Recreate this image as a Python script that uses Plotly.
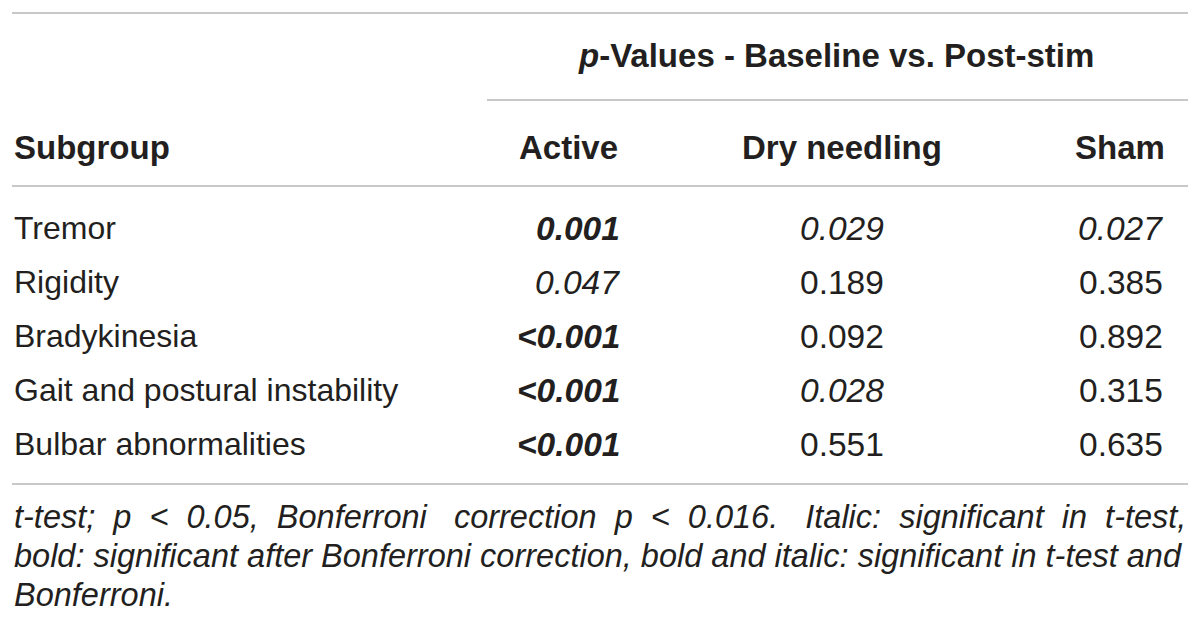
import plotly.graph_objects as go

# table contents
group_header = "<i>p</i>-Values - Baseline vs. Post-stim"
columns = ["Subgroup", "Active", "Dry needling", "Sham"]
subgroups = ["Tremor", "Rigidity", "Bradykinesia", "Gait and postural instability", "Bulbar abnormalities"]
active = ["0.001", "0.047", "<0.001", "<0.001", "<0.001"]
dry_needling = ["0.029", "0.189", "0.092", "0.028", "0.551"]
sham = ["0.027", "0.385", "0.892", "0.315", "0.635"]
# style codes per cell: "" plain, "i" italic, "bi" bold italic
active_style = ["bi", "i", "bi", "bi", "bi"]
dry_style = ["i", "", "", "i", ""]
sham_style = ["i", "", "", "", ""]
# extra spaces fake the justified first line
footnote = [
    "<i>t-test;  p  <  0.05,  Bonferroni   correction  p  <  0.016.   Italic:  significant  in  t-test,</i>",
    "<i>bold: significant after Bonferroni correction, bold and italic: significant in t-test and</i>",
    "<i>Bonferroni.</i>",
]

FONT = "Liberation Sans"
TXT = "#231f20"
RULE = "#c8c8c8"


def styled(v, s):
    v = v.replace("<", "&lt;")
    if "i" in s:
        v = "<i>" + v + "</i>"
    if "b" in s:
        v = "<b>" + v + "</b>"
    return v


fig = go.Figure()
ann = []


def add(x, y, text, anchor="left", size=32, color=TXT):
    ann.append(dict(x=x, y=y, text=text, xanchor=anchor, yanchor="middle",
                    showarrow=False, font=dict(family=FONT, size=size, color=color)))


add(836, 55, "<b>" + group_header + "</b>", "center", size=33)
add(12, 147, "<b>" + columns[0] + "</b>", "left", size=33)
add(620, 147, "<b>" + columns[1] + "</b>", "right", size=33)
add(842, 147, "<b>" + columns[2] + "</b>", "center", size=33)
add(1167, 147, "<b>" + columns[3] + "</b>", "right", size=33)

row_y = [228, 282, 336, 390, 444]
for i, name in enumerate(subgroups):
    add(12, row_y[i], name, "left")
    add(622, row_y[i], styled(active[i], active_style[i]), "right", size=33.5)
    add(842, row_y[i], styled(dry_needling[i], dry_style[i]), "center", size=33.5)
    add(1165, row_y[i], styled(sham[i], sham_style[i]), "right", size=33.5)

foot_y = [517, 556, 595]
for i, line in enumerate(footnote):
    add(12, foot_y[i], line, "left", size=32.5)

shapes = [
    dict(type="line", x0=12, x1=1188, y0=13, y1=13, line=dict(color=RULE, width=2)),
    dict(type="line", x0=487, x1=1188, y0=100, y1=100, line=dict(color=RULE, width=2)),
    dict(type="line", x0=12, x1=1188, y0=186, y1=186, line=dict(color=RULE, width=2)),
    dict(type="line", x0=12, x1=1188, y0=484, y1=484, line=dict(color=RULE, width=2)),
]

# page body has an 8px margin, so the axes are offset to keep page pixels == data units
fig.update_layout(
    width=1200, height=625,
    margin=dict(l=0, r=0, t=0, b=0),
    paper_bgcolor="white", plot_bgcolor="white",
    xaxis=dict(range=[8, 1208], visible=False, fixedrange=True),
    yaxis=dict(range=[633, 8], visible=False, fixedrange=True),
    annotations=ann, shapes=shapes, showlegend=False,
)
fig.write_html("out.html")
